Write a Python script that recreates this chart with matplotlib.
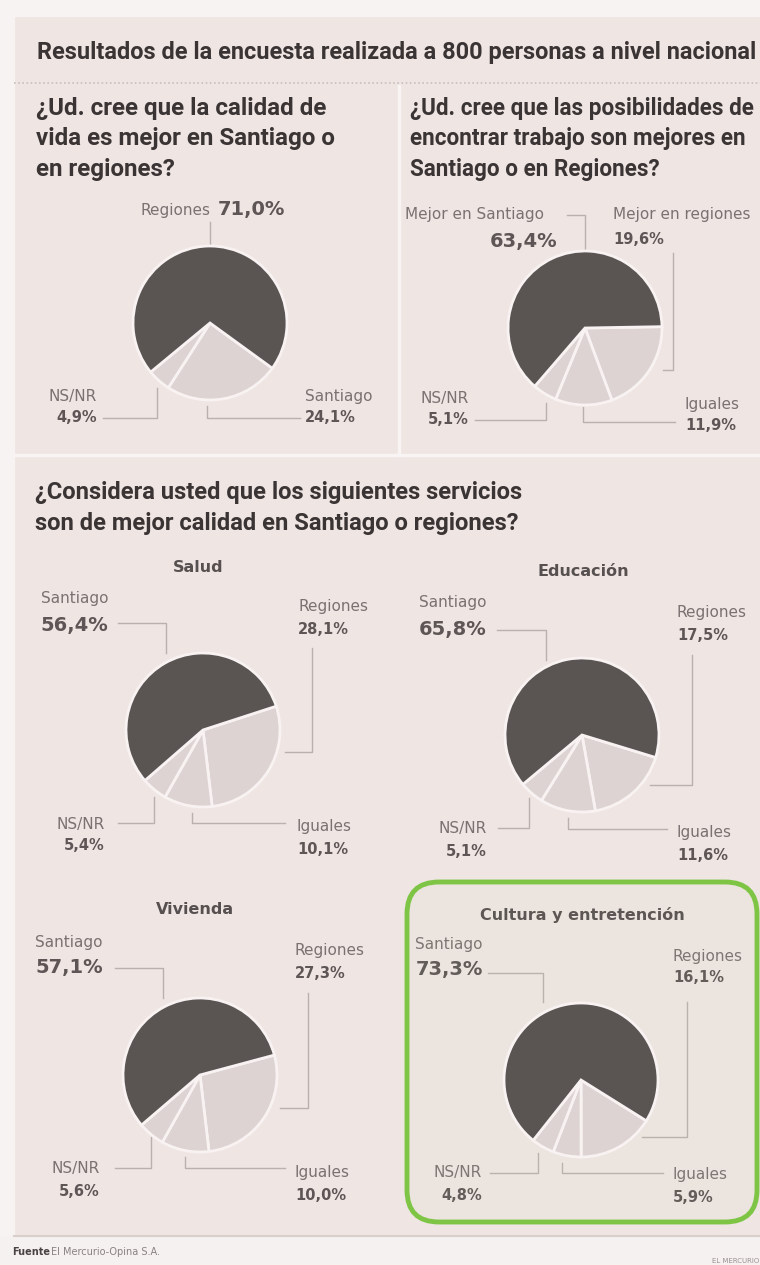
import matplotlib
matplotlib.use('Agg')
import matplotlib.pyplot as plt
from matplotlib import font_manager
from matplotlib.patches import FancyBboxPatch, Rectangle

# ── Survey data (share of answers, %) ─────────────────────────────────────
vida_labels = ["Santiago", "NS/NR", "Regiones"]
vida_values = [24.1, 4.9, 71.0]

trabajo_labels = ["Mejor en regiones", "Iguales", "NS/NR", "Mejor en Santiago"]
trabajo_values = [19.6, 11.9, 5.1, 63.4]

service_labels = ["Regiones", "Iguales", "NS/NR", "Santiago"]
salud_values = [28.1, 10.1, 5.4, 56.4]
educacion_values = [17.5, 11.6, 5.1, 65.8]
vivienda_values = [27.3, 10.0, 5.6, 57.1]
cultura_values = [16.1, 5.9, 4.8, 73.3]

W, H = 760, 1265
BG = '#efe5e3'
DARK = '#5a5453'
LIGHT = '#ddd3d2'
TITLE_C = '#3a3434'
NAME_C = '#7a7171'
VALUE_C = '#5e5656'
LEADER_C = '#b9b0af'

# heading face: Roboto if present, otherwise an Arial-like sans
names = {f.name for f in font_manager.fontManager.ttflist}
head_kw = dict(family='Roboto' if 'Roboto' in names else 'Liberation Sans')

fig = plt.figure(figsize=(W / 100, H / 100), dpi=100, facecolor=BG)
bg = fig.add_axes([0, 0, 1, 1])
bg.set_xlim(0, W)
bg.set_ylim(H, 0)
bg.axis('off')
renderer = fig.canvas.get_renderer()


def fit_width(t, width):
    w = t.get_window_extent(renderer).width
    t.set_fontsize(t.get_fontsize() * width / w)


# lighter page margins and panel separators
bg.add_patch(Rectangle((0, 0), 14, H, color='#f7f3f2', zorder=0))
bg.add_patch(Rectangle((0, 0), W, 16, color='#f7f3f2', zorder=0))
bg.add_patch(Rectangle((0, 1236), W, 30, color='#f5f1f0', zorder=0))
bg.plot([14, W], [1236, 1236], color='#d8cfcd', lw=1.5, zorder=1)
bg.plot([399, 399], [86, 455], color='#f8f4f3', lw=2.5, zorder=1)
bg.plot([14, W], [455, 455], color='#f8f4f3', lw=2.5, zorder=1)
bg.plot([14, W], [83, 83], color='#c9bfbd', lw=1.2, ls=(0, (1, 1.5)), zorder=1)

# ── Headings ──────────────────────────────────────────────────────────────
t = bg.text(37, 53, "Resultados de la encuesta realizada a 800 personas a nivel nacional",
            fontweight='bold', fontsize=16, color=TITLE_C, va='center', **head_kw)
fit_width(t, 718)

q_kw = dict(fontweight='bold', fontsize=16, color=TITLE_C, va='center',
            linespacing=1.42, **head_kw)
t = bg.text(36, 139, "¿Ud. cree que la calidad de\nvida es mejor en Santiago o\nen regiones?", **q_kw)
fit_width(t, 300)
t = bg.text(410, 139, "¿Ud. cree que las posibilidades de\nencontrar trabajo son mejores en\n"
            "Santiago o en Regiones?", **q_kw)
fit_width(t, 346)
t = bg.text(35, 508, "¿Considera usted que los siguientes servicios\n"
            "son de mejor calidad en Santiago o regiones?", **q_kw)
fit_width(t, 490)


def fmt(v):
    return f"{v:.1f}".replace('.', ',') + "%"


def draw_pie(center, values, start, r=77):
    cx, cy = center
    m = r * 1.06
    ax = fig.add_axes([(cx - m) / W, 1 - (cy + m) / H, 2 * m / W, 2 * m / H])
    colors = [LIGHT] * (len(values) - 1) + [DARK]
    ax.pie(values, colors=colors, startangle=start, counterclock=False, radius=1,
           wedgeprops=dict(edgecolor='#f8f3f2', linewidth=2))
    ax.set_xlim(-1.06, 1.06)
    ax.set_ylim(-1.06, 1.06)
    ax.set_aspect('equal')
    ax.axis('off')


def label(name, value, x, y_name, y_val, ha='left', big=False, same_line=False):
    if same_line:
        bg.text(x - 4, y_name, name, ha='right', va='center', fontsize=11, color=NAME_C)
        bg.text(x + 4, y_name, fmt(value), ha='left', va='center', fontsize=14,
                fontweight='bold', color=VALUE_C)
        return
    bg.text(x, y_name, name, ha=ha, va='center', fontsize=11, color=NAME_C)
    bg.text(x, y_val, fmt(value), ha=ha, va='center', fontweight='bold',
            fontsize=14 if big else 10.5, color=VALUE_C)


def leader(xs, ys):
    bg.plot(xs, ys, color=LEADER_C, lw=1, zorder=2)


# ── Calidad de vida ───────────────────────────────────────────────────────
draw_pie((210, 323), vida_values, -36)
label(vida_labels[2], vida_values[2], 214, 210, 210, same_line=True)
leader([210, 210], [222, 246])
label(vida_labels[0], vida_values[0], 305, 397, 418)
leader([207, 207, 300], [406, 418, 418])
label(vida_labels[1], vida_values[1], 97, 397, 418, ha='right')
leader([103, 157, 157], [418, 418, 388])

# ── Trabajo ───────────────────────────────────────────────────────────────
draw_pie((585, 328), trabajo_values, 1)
bg.text(405, 215, trabajo_labels[3], ha='left', va='center', fontsize=11, color=NAME_C)
bg.text(557, 242, fmt(trabajo_values[3]), ha='right', va='center', fontsize=14,
        fontweight='bold', color=VALUE_C)
leader([567, 585, 585], [215, 215, 251])
label(trabajo_labels[0], trabajo_values[0], 613, 215, 240)
leader([673, 673, 663], [253, 370, 370])
label(trabajo_labels[2], trabajo_values[2], 469, 399, 420, ha='right')
leader([475, 546, 546], [420, 420, 403])
label(trabajo_labels[1], trabajo_values[1], 685, 405, 425)
leader([583, 583, 675], [407, 422, 422])

# ── Services ──────────────────────────────────────────────────────────────
services = [
    dict(title="Salud", values=salud_values, center=(203, 730), start=18, title_xy=(198, 567),
         santiago=(108, 598, 625), s_lead=([118, 166, 166], [623, 623, 653]),
         regiones=(298, 607, 629), r_lead=([312, 312, 285], [648, 752, 752]),
         nsnr=(105, 825, 846), n_lead=([118, 154, 154], [823, 823, 797]),
         iguales=(297, 826, 849), i_lead=([192, 192, 285], [813, 823, 823])),
    dict(title="Educación", values=educacion_values, center=(582, 735), start=-17,
         title_xy=(583, 572),
         santiago=(487, 603, 630), s_lead=([497, 546, 546], [630, 630, 660]),
         regiones=(677, 613, 636), r_lead=([692, 692, 650], [655, 785, 785]),
         nsnr=(487, 828, 852), n_lead=([498, 529, 529], [828, 828, 798]),
         iguales=(677, 832, 855), i_lead=([568, 568, 667], [818, 829, 829])),
    dict(title="Vivienda", values=vivienda_values, center=(200, 1075), start=15,
         title_xy=(195, 910),
         santiago=(103, 942, 968), s_lead=([115, 163, 163], [968, 968, 998]),
         regiones=(295, 950, 973), r_lead=([308, 308, 280], [993, 1108, 1108]),
         nsnr=(100, 1168, 1192), n_lead=([115, 151, 151], [1168, 1168, 1137]),
         iguales=(295, 1172, 1195), i_lead=([185, 185, 285], [1157, 1168, 1168])),
    dict(title="Cultura y entretención", values=cultura_values, center=(581, 1080), start=-32,
         title_xy=(582, 915),
         santiago=(483, 945, 970), s_lead=([488, 543, 543], [973, 973, 1002]),
         regiones=(673, 956, 978), r_lead=([687, 687, 642], [1002, 1137, 1137]),
         nsnr=(482, 1173, 1195), n_lead=([490, 538, 538], [1173, 1173, 1153]),
         iguales=(673, 1175, 1197), i_lead=([562, 562, 663], [1163, 1173, 1173])),
]

for s in services:
    vals = s['values']
    draw_pie(s['center'], vals, s['start'])
    bg.text(*s['title_xy'], s['title'], ha='center', va='center', fontsize=11.5,
            fontweight='bold', color='#575050')
    label(service_labels[3], vals[3], *s['santiago'], ha='right', big=True)
    label(service_labels[0], vals[0], *s['regiones'])
    label(service_labels[2], vals[2], *s['nsnr'], ha='right')
    label(service_labels[1], vals[1], *s['iguales'])
    for key in ('s_lead', 'r_lead', 'n_lead', 'i_lead'):
        leader(*s[key])

# highlight box around the last panel
bg.add_patch(FancyBboxPatch((407, 882), 350, 340, boxstyle='round,pad=0,rounding_size=32',
                            facecolor='#c4e3a0', alpha=0.05, edgecolor='none', zorder=3))
bg.add_patch(FancyBboxPatch((407, 882), 350, 340, boxstyle='round,pad=0,rounding_size=32',
                            facecolor='none', edgecolor='#7ec545', lw=3.5, zorder=4))

# ── Footer ────────────────────────────────────────────────────────────────
bg.text(12, 1252, "Fuente", fontsize=7, fontweight='bold', color='#4a4444', va='center')
bg.text(51, 1252, "El Mercurio-Opina S.A.", fontsize=7, color='#8a8282', va='center')
bg.text(712, 1261, "EL MERCURIO", fontsize=5, color='#9a9292', va='center')

fig.savefig("out.png", dpi=100, facecolor=BG)
